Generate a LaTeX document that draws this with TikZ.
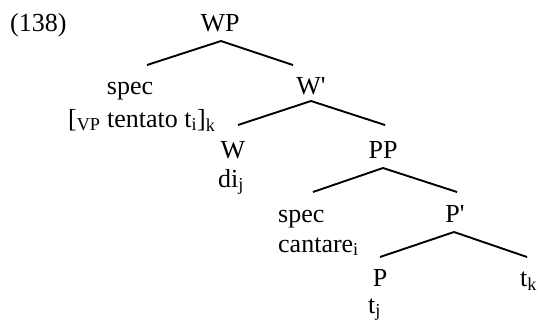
\documentclass[tikz,border=0pt]{standalone}
\usepackage{fontspec}
\setmainfont{Liberation Serif}[Ligatures=TeXOff]
\begin{document}
\begin{tikzpicture}[x=1pt,y=-1pt,
  lbl/.style={inner sep=0pt,anchor=base,font=\fontsize{26}{31}\selectfont},
  lblw/.style={lbl,anchor=base west},
  branch/.style={line width=1.9pt}]
\useasboundingbox (0,0) rectangle (538,325);
% labels
\node[lblw] (ex) at (10,31) {(138)};
\node[lbl] (WP) at (220,31) {WP};
\node[lbl] (spec1) at (130,94) {spec};
\node[lblw] (vp) at (68,127) {[\textsubscript{VP} tentato t\textsubscript{i}]\textsubscript{k}};
\node[lbl] (Wb) at (311,94) {W'};
\node[lbl] (W) at (233,158) {W};
\node[lblw] (di) at (218,187) {di\textsubscript{j}};
\node[lbl] (PP) at (383,158) {PP};
\node[lblw] (spec2) at (278,222) {spec};
\node[lblw] (cant) at (278,252) {cantare\textsubscript{i}};
\node[lbl] (Pb) at (455,222) {P'};
\node[lbl] (P) at (380,286) {P};
\node[lblw] (tk) at (520,286) {t\textsubscript{k}};
\node[lblw] (tj) at (368,313) {t\textsubscript{j}};
% branch end points
\coordinate (WPa) at (221,41);
\coordinate (WPl) at (147,65);
\coordinate (WPr) at (293,65);
\coordinate (Wba) at (311,101);
\coordinate (Wbl) at (238,125);
\coordinate (Wbr) at (385,125);
\coordinate (PPa) at (383,168);
\coordinate (PPl) at (313,192);
\coordinate (PPr) at (457,192);
\coordinate (Pba) at (454,232);
\coordinate (Pbl) at (380,257);
\coordinate (Pbr) at (527,257);
% branches
\draw[branch] (WPl) -- (WPa) -- (WPr);
\draw[branch] (Wbl) -- (Wba) -- (Wbr);
\draw[branch] (PPl) -- (PPa) -- (PPr);
\draw[branch] (Pbl) -- (Pba) -- (Pbr);
\end{tikzpicture}
\end{document}
